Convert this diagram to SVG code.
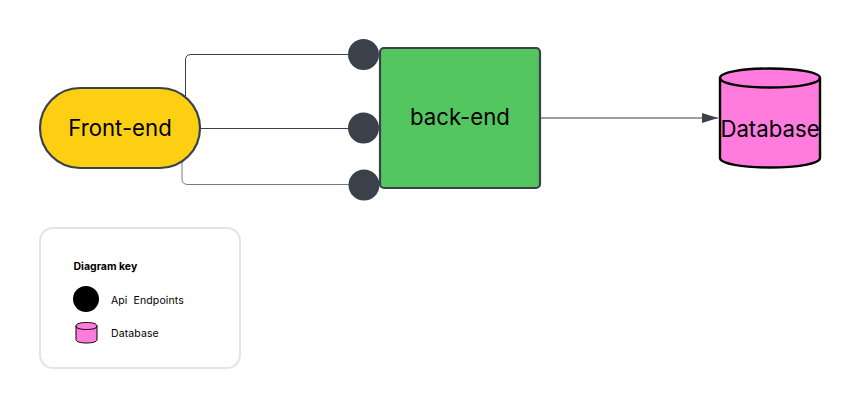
<svg xmlns="http://www.w3.org/2000/svg" width="860" height="408" viewBox="0 0 860 408">
<style>
text{font-family:Inter,"Liberation Sans",sans-serif;fill:#000;text-anchor:middle}
.big{font-size:22.200px}
.small{font-size:10.500px;letter-spacing:.1px;text-anchor:start}
.c{fill:none;stroke:#3a414a;stroke-width:1}
.dot{fill:#3a414a}
.cyl{fill:#ff7bdd;stroke:#000;stroke-width:2.400}
</style>
<defs><marker id="arrow" markerUnits="userSpaceOnUse" markerWidth="18" markerHeight="12" refX="16" refY="5" orient="auto"><path d="M0 0L16 5L0 10Z" fill="#3a414a"/></marker></defs>
<rect width="860" height="408" fill="#fff"/>
<g id="connectors">
<path class="c" d="M185.500 96V60Q185.500 54.500 191 54.500H350"/>
<path class="c" d="M200 128.500H350"/>
<path class="c" d="M182 161V179Q182 184.500 188 184.500H350" stroke-opacity=".7"/>
<path class="c" d="M540 118H718" marker-end="url(#arrow)"/>
</g>
<g id="front-end"><rect x="40" y="88" width="160" height="80" rx="40" fill="#fdcf12" stroke="#3a414a" stroke-width="2.200"/><text class="big" x="120" y="136">Front-end</text></g>
<g id="endpoint-1"><circle class="dot" cx="363.500" cy="54.500" r="15.500"/></g>
<g id="endpoint-2"><circle class="dot" cx="363.500" cy="128" r="15.500"/></g>
<g id="endpoint-3"><circle class="dot" cx="364" cy="185" r="15.500"/></g>
<g id="back-end"><rect x="380" y="48" width="160" height="140" rx="4" fill="#53c65f" stroke="#3a414a" stroke-width="2.200"/><text class="big" x="460" y="125">back-end</text></g>
<g id="database"><path class="cyl" d="M720 78V158C720 163.500 742 167.500 770 167.500S820 163.500 820 158V78C820 72.500 798 68.500 770 68.500S720 72.500 720 78Z"/><path class="cyl" style="fill:none" d="M720 78C720 83.500 742 87.500 770 87.500S820 83.500 820 78"/><text class="big" x="770" y="136.500">Database</text></g>
<g id="key">
<rect x="40" y="228" width="200" height="140" rx="13" fill="#fff" stroke="#e2e4e8" stroke-width="2"/>
<text x="73.500" y="270" style="font-size:10.500px;font-weight:700;text-anchor:start">Diagram key</text>
<circle cx="86" cy="299" r="13" fill="#000"/>
<text class="small" x="111" y="303.500" xml:space="preserve">Api  Endpoints</text>
<path d="M76 326V339.500C76 342 81 343 86.500 343S97 342 97 339.500V326C97 323.500 92 322.500 86.500 322.500S76 323.500 76 326Z" fill="#ff7bdd" stroke="#000" stroke-width="1"/>
<path d="M76 326C76 328.500 81 329.500 86.500 329.500S97 328.500 97 326" fill="none" stroke="#000" stroke-width="1"/>
<text class="small" x="111" y="337">Database</text>
</g>
</svg>
